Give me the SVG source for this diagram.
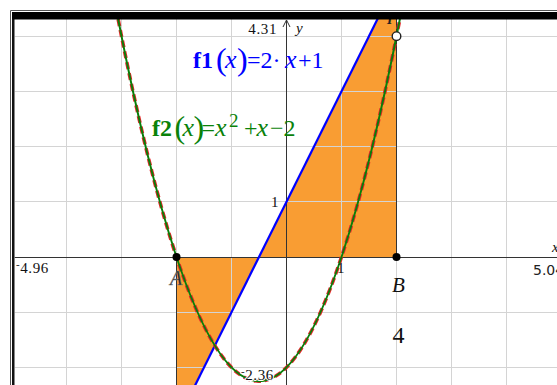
<svg xmlns="http://www.w3.org/2000/svg" width="557" height="385" viewBox="0 0 557 385">
<defs>
<style>
.grid{stroke:#d4d4d4;stroke-width:1;fill:none}
.axis{stroke:#333;stroke-width:1;fill:none}
.edge{stroke:#333;stroke-width:1;fill:none}
.fillr{fill:#f99d33;stroke:none}
.f1{stroke:#0000ff;stroke-width:2.2;fill:none}
.f2d{stroke:#e8262a;stroke-width:3.6;stroke-dasharray:7 4;fill:none}
.f2{stroke:#0a7d0a;stroke-width:2;fill:none}
.lbl{font-family:"Liberation Serif","Times New Roman",serif;font-size:15px;fill:#111;letter-spacing:0.6px}
.lbls{font-family:"DejaVu Sans","Liberation Sans",sans-serif;font-size:14px;fill:#222}
.pt{fill:#000}
.ser{font-family:"Liberation Serif","Times New Roman",serif}
</style>
<clipPath id="plot"><rect x="14.5" y="19" width="543" height="366"/></clipPath>
</defs>
<rect x="0" y="0" width="557" height="385" fill="#fff"/>
<g id="plot-area" clip-path="url(#plot)">
<g id="region">
<polygon class="fillr" points="259,257 396.5,257 396.5,0 387,0"/>
<polygon class="fillr" points="176.5,257 259,257 187.8,400 176.5,400"/>
</g>
<g id="gridlines">
<path class="grid" d="M66.5,19V385M121.5,19V385M176.5,19V385M231.5,19V385M341.5,19V385M396.5,19V385M451.5,19V385M506.5,19V385"/>
<path class="grid" d="M14.5,36.5H557M14.5,91.5H557M14.5,146.5H557M14.5,201.5H557M14.5,312.5H557M14.5,367.5H557"/>
</g>
<g id="axes">
<path class="axis" d="M14.5,257.5H557"/>
<path class="axis" d="M286.5,20V385"/>
<path class="axis" d="M283,27L286.5,20L290,27"/>
</g>
<g id="connectors">
<path class="edge" d="M176.5,257V385"/>
<path class="edge" d="M396.5,19V257"/>
<path id="f1-line" class="f1" d="M187.8,400L387,0"/>
<path class="f2d" d="M116,8.05Q259,754.35 402,8.05"/>
<path id="f2-curve" class="f2" d="M116,8.05Q259,754.35 402,8.05"/>
</g>
<text class="ser" x="387" y="23.5" font-size="14" font-weight="bold" font-style="italic" fill="#222">I</text>
</g>
<g id="frame">
<path d="M10.5,385V10.5H557" stroke="#555" stroke-width="1" fill="none"/>
<rect x="12" y="12" width="2.5" height="373" fill="#111"/>
<rect x="12" y="12" width="545" height="7.5" fill="#000"/>
</g>
<g id="axis-labels">
<text class="lbl" x="277" y="34" text-anchor="end">4.31</text>
<text class="lbl" x="296" y="33" font-style="italic" font-size="13">y</text>
<text class="lbl" x="279" y="207" text-anchor="end">1</text>
<text class="lbl" x="341" y="273" text-anchor="middle">1</text>
<text class="lbl" x="16" y="273"><tspan font-size="11" dy="-5">-</tspan><tspan dy="5">4.96</tspan></text>
<text class="lbls" x="533" y="275">5.04</text>
<text class="lbl" x="552" y="252" font-style="italic" font-size="12">x</text>
<text class="lbl" x="241" y="380" stroke="#fff" stroke-width="2" paint-order="stroke"><tspan font-size="11" dy="-5">-</tspan><tspan dy="5">2.36</tspan></text>
</g>
<g id="point-A">
<circle class="pt" cx="176.5" cy="257" r="4"/>
<text class="ser" x="176" y="285" font-size="20" font-style="italic" text-anchor="middle" fill="#222" stroke="#888" stroke-width="0.4">A</text>
</g>
<g id="point-B">
<circle class="pt" cx="396.5" cy="257" r="4"/>
<text class="ser" x="392" y="292" font-size="21" font-style="italic" fill="#111">B</text>
</g>
<g id="point-top">
<circle cx="396.5" cy="36.2" r="4.3" fill="#fff" stroke="#222" stroke-width="1.4"/>
</g>
<g id="area-value">
<text class="ser" x="398.5" y="343" font-size="24" text-anchor="middle" fill="#111">4</text>
</g>
<g id="label-f1" class="ser" fill="#0000ff">
<text y="68" font-size="24"><tspan x="193" font-weight="bold">f1</tspan><tspan x="216" font-size="32" dy="2">(</tspan><tspan x="225" font-style="italic" font-size="26" dy="-2">x</tspan><tspan x="237" font-size="32" dy="2">)</tspan><tspan x="247" dy="-2">=2·</tspan><tspan x="285" font-style="italic" font-size="26">x</tspan><tspan x="298">+1</tspan></text>
</g>
<g id="label-f2" class="ser" fill="#0a820a">
<text y="135.5" font-size="24"><tspan x="152" font-weight="bold">f2</tspan><tspan x="174.5" font-size="32" dy="2">(</tspan><tspan x="182.5" font-style="italic" font-size="26" dy="-2">x</tspan><tspan x="193.5" font-size="32" dy="2">)</tspan><tspan x="201.5" dy="-2">=</tspan><tspan x="215" font-style="italic" font-size="26">x</tspan><tspan x="229" font-size="19" dy="-9">2</tspan><tspan x="244" dy="9">+</tspan><tspan x="256.5" font-style="italic" font-size="26">x</tspan><tspan x="270">−2</tspan></text>
</g>
</svg>
